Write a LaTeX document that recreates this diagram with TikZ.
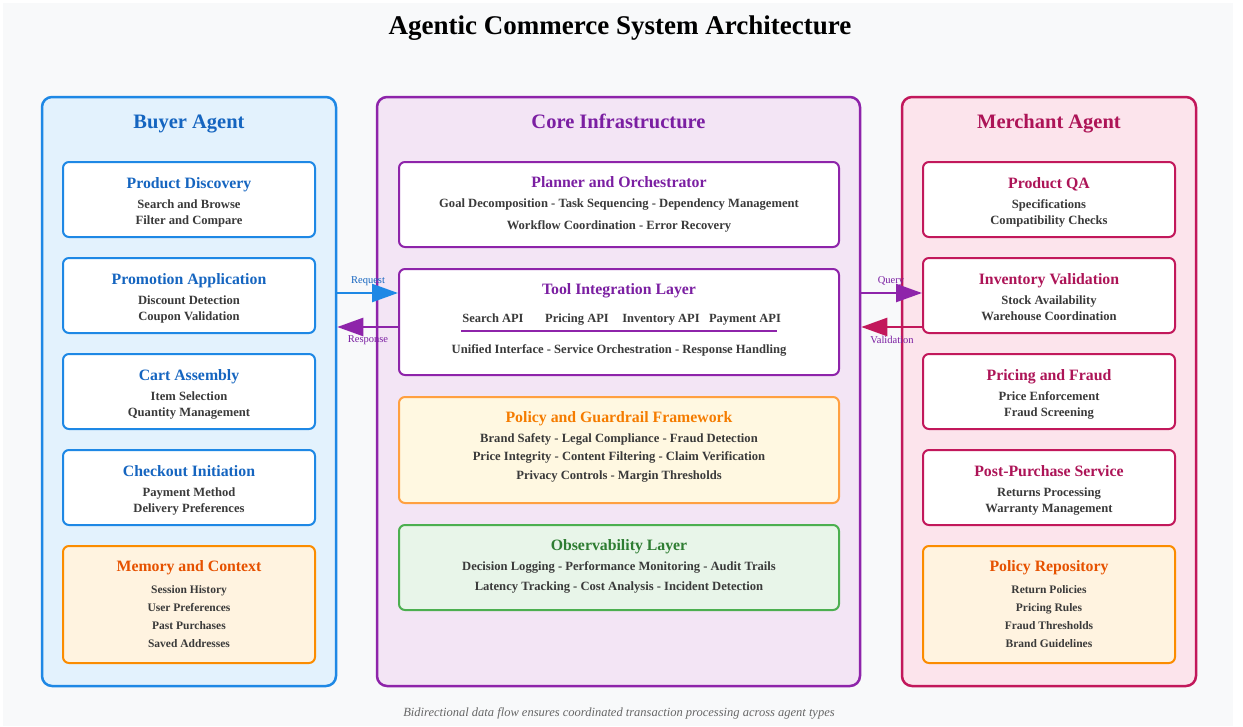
\documentclass[tikz,border=0pt]{standalone}
\usepackage{fontspec}
\setmainfont{Liberation Serif}
\usetikzlibrary{arrows.meta, positioning}

\definecolor{pagebg}{HTML}{F8F9FA}
\definecolor{buyerbg}{HTML}{E3F2FD}
\definecolor{buyerbd}{HTML}{1E88E5}
\definecolor{buyertx}{HTML}{1565C0}
\definecolor{corebg}{HTML}{F3E5F5}
\definecolor{corebd}{HTML}{8E24AA}
\definecolor{coretx}{HTML}{7B1FA2}
\definecolor{merchbg}{HTML}{FCE4EC}
\definecolor{merchbd}{HTML}{C2185B}
\definecolor{merchtx}{HTML}{AD1457}
\definecolor{memobg}{HTML}{FFF3E0}
\definecolor{memobd}{HTML}{FB8C00}
\definecolor{memotx}{HTML}{E65100}
\definecolor{guardbg}{HTML}{FFF8E1}
\definecolor{guardbd}{HTML}{FFA040}
\definecolor{guardtx}{HTML}{F57C00}
\definecolor{obsbg}{HTML}{E8F5E9}
\definecolor{obsbd}{HTML}{4CAF50}
\definecolor{obstx}{HTML}{2E7D32}
\definecolor{bodytx}{HTML}{3A3A3A}
\definecolor{notetx}{HTML}{666666}

\begin{document}
\begin{tikzpicture}[x=1pt, y=-1pt,
  panel/.style={rectangle, draw=#1, line width=2.5pt, rounded corners=10pt,
                minimum width=294pt, minimum height=589pt, inner sep=0pt},
  card/.style={rectangle, draw=#1, line width=2pt, rounded corners=6pt, inner sep=0pt},
  ptitle/.style={font=\fontsize{20.5}{24}\selectfont\bfseries, text=#1, anchor=base},
  ctitle/.style={font=\fontsize{15.8}{18}\selectfont\bfseries, text=#1, anchor=base},
  body/.style={font=\fontsize{12.6}{#1}\selectfont\bfseries, text=bodytx,
               align=center, anchor=north, inner sep=0pt},
  small/.style={font=\fontsize{11.5}{18}\selectfont\bfseries, text=bodytx,
                align=center, anchor=north, inner sep=0pt},
  api/.style={font=\fontsize{12.5}{14}\selectfont\bfseries, text=bodytx, anchor=base},
  flow/.style={draw=#1, line width=2.5pt, -{Triangle[length=26pt, width=18pt]}},
  flbl/.style={font=\fontsize{10.5}{12}\selectfont, text=#1}
]
\useasboundingbox (0,0) rectangle (1243,726);
\fill[pagebg] (3,3) rectangle (1233,726);

% Title
\node[font=\fontsize{27}{32}\selectfont\bfseries] (title) at (620,28) {Agentic Commerce System Architecture};

% Panels
\node[panel=buyerbd, fill=buyerbg] (buyer) at (189,391.5) {};
\node[panel=corebd, fill=corebg, minimum width=483pt] (core) at (618.5,391.5) {};
\node[panel=merchbd, fill=merchbg] (merch) at (1049,391.5) {};
\node[ptitle=buyertx] (buyerT) at ([yshift=-33pt]buyer.north) {Buyer Agent};
\node[ptitle=coretx] (coreT) at ([yshift=-33pt]core.north) {Core Infrastructure};
\node[ptitle=merchtx] (merchT) at ([yshift=-33pt]merch.north) {Merchant Agent};

% Buyer cards
\foreach \nm/\yc/\hd/\la/\lb in {
    pd/199.5/Product Discovery/Search and Browse/Filter and Compare,
    pa/295.5/Promotion Application/Discount Detection/Coupon Validation,
    ca/391.5/Cart Assembly/Item Selection/Quantity Management,
    ci/487.5/Checkout Initiation/Payment Method/Delivery Preferences} {
  \node[card=buyerbd, fill=white, minimum width=252pt, minimum height=75pt] (b\nm) at (189,\yc) {};
  \node[ctitle=buyertx] (b\nm T) at ([yshift=-27pt]b\nm.north) {\hd};
  \node[body=16] (b\nm B) at ([yshift=-38.5pt]b\nm.north) {\la\\\lb};
}
\node[card=memobd, fill=memobg, minimum width=252pt, minimum height=117pt] (mem) at (189,604.5) {};
\node[ctitle=memotx] (memT) at ([yshift=-26.5pt]mem.north) {Memory and Context};
\node[small] (memB) at ([yshift=-40.5pt]mem.north) {Session History\\User Preferences\\Past Purchases\\Saved Addresses};

% Merchant cards
\foreach \nm/\yc/\hd/\la/\lb in {
    qa/199.5/Product QA/Specifications/Compatibility Checks,
    iv/295.5/Inventory Validation/Stock Availability/Warehouse Coordination,
    pf/391.5/Pricing and Fraud/Price Enforcement/Fraud Screening,
    ps/487.5/Post-Purchase Service/Returns Processing/Warranty Management} {
  \node[card=merchbd, fill=white, minimum width=252pt, minimum height=75pt] (m\nm) at (1049,\yc) {};
  \node[ctitle=merchtx] (m\nm T) at ([yshift=-27pt]m\nm.north) {\hd};
  \node[body=16] (m\nm B) at ([yshift=-38.5pt]m\nm.north) {\la\\\lb};
}
\node[card=memobd, fill=memobg, minimum width=252pt, minimum height=117pt] (prep) at (1049,604.5) {};
\node[ctitle=memotx] (prepT) at ([yshift=-26.5pt]prep.north) {Policy Repository};
\node[small] (prepB) at ([yshift=-40.5pt]prep.north) {Return Policies\\Pricing Rules\\Fraud Thresholds\\Brand Guidelines};

% Core cards
\node[card=corebd, fill=white, minimum width=440pt, minimum height=85pt] (plan) at (619,204.5) {};
\node[ctitle=coretx] (planT) at ([yshift=-26pt]plan.north) {Planner and Orchestrator};
\node[body=22] (planB) at ([yshift=-38pt]plan.north)
  {Goal Decomposition - Task Sequencing - Dependency Management\\Workflow Coordination - Error Recovery};

\node[card=corebd, fill=white, minimum width=440pt, minimum height=106pt] (tool) at (619,322) {};
\node[ctitle=coretx] (toolT) at ([yshift=-26pt]tool.north) {Tool Integration Layer};
\foreach \nm/\xc/\hd in {sa/493/Search API, pr/577/Pricing API, in/661/Inventory API, py/745/Payment API}
  \node[api] (\nm) at (\xc,322) {\hd};
\draw[corebd, line width=2pt] ([xshift=63pt, yshift=-63pt]tool.north west) -- ([xshift=-63pt, yshift=-63pt]tool.north east);
\node[body=16] (toolB) at ([yshift=-76pt]tool.north) {Unified Interface - Service Orchestration - Response Handling};

\node[card=guardbd, fill=guardbg, minimum width=440pt, minimum height=106pt] (guard) at (619,450) {};
\node[ctitle=guardtx] (guardT) at ([yshift=-26pt]guard.north) {Policy and Guardrail Framework};
\node[body=18.5] (guardB) at ([yshift=-37pt]guard.north)
  {Brand Safety - Legal Compliance - Fraud Detection\\Price Integrity - Content Filtering - Claim Verification\\Privacy Controls - Margin Thresholds};

\node[card=obsbd, fill=obsbg, minimum width=440pt, minimum height=85pt] (obs) at (619,567.5) {};
\node[ctitle=obstx] (obsT) at ([yshift=-26pt]obs.north) {Observability Layer};
\node[body=20] (obsB) at ([yshift=-37pt]obs.north)
  {Decision Logging - Performance Monitoring - Audit Trails\\Latency Tracking - Cost Analysis - Incident Detection};

% Data flow
\coordinate (upY) at (0,293);
\coordinate (dnY) at (0,327);
\draw[flow=buyerbd] (buyer.east |- upY) -- (tool.west |- upY);
\draw[flow=corebd] (tool.west |- dnY) -- (buyer.east |- dnY);
\draw[flow=corebd] (core.east |- upY) -- (miv.west |- upY);
\draw[flow=merchbd] (miv.west |- dnY) -- (core.east |- dnY);
\node[flbl=buyertx] (reqL) at (368,281) {Request};
\node[flbl=coretx] (resL) at (368,340) {Response};
\node[flbl=coretx] (qryL) at (891,281) {Query};
\node[flbl=coretx] (valL) at (892,340) {Validation};

% Footer
\node[font=\fontsize{12.5}{14}\selectfont\itshape, text=notetx] (note) at (619,713)
  {Bidirectional data flow ensures coordinated transaction processing across agent types};
\end{tikzpicture}
\end{document}
